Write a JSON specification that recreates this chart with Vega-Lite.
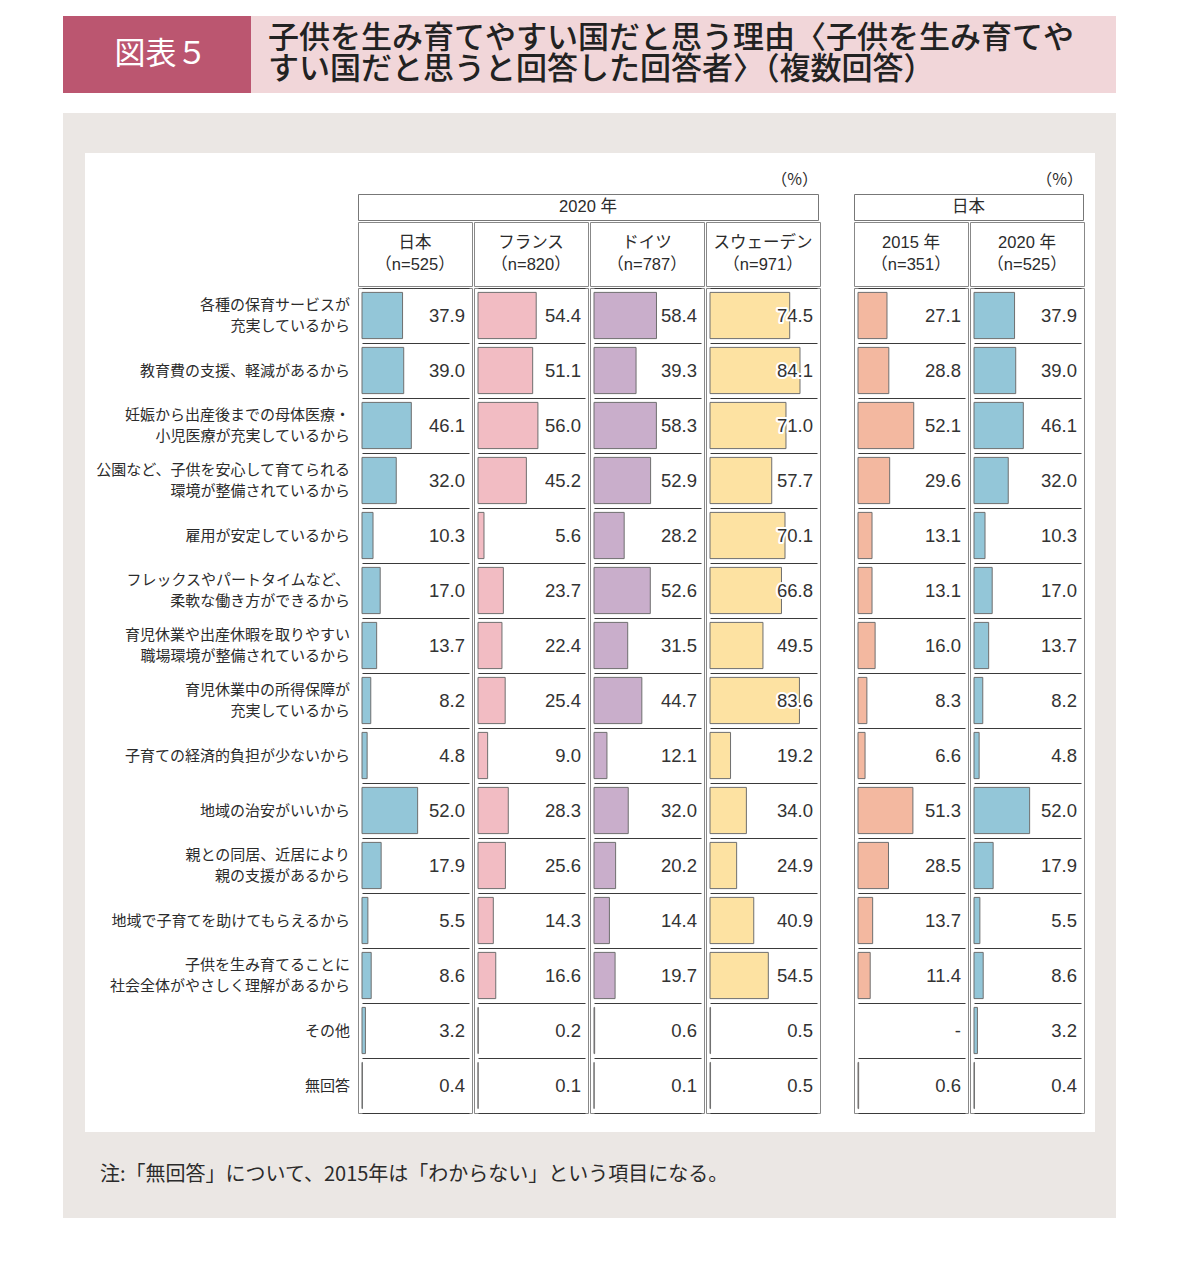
{
  "$schema": "https://vega.github.io/schema/vega-lite/v6.json",
  "padding": {"left": 63, "top": 16, "right": 0, "bottom": 0},
  "spacing": 20,
  "config": {
    "background": "white",
    "font": "Noto Sans CJK JP",
    "view": {"stroke": null},
    "text": {"color": "#2b2b2b"}
  },
  "datasets": {
    "rows": [
      {"k": 1, "label": "各種の保育サービスが\n充実しているから", "jp": 37.9, "fr": 54.4, "de": 58.4, "se": 74.5, "jp15": 27.1},
      {"k": 2, "label": "教育費の支援、軽減があるから", "jp": 39.0, "fr": 51.1, "de": 39.3, "se": 84.1, "jp15": 28.8},
      {"k": 3, "label": "妊娠から出産後までの母体医療・\n小児医療が充実しているから", "jp": 46.1, "fr": 56.0, "de": 58.3, "se": 71.0, "jp15": 52.1},
      {"k": 4, "label": "公園など、子供を安心して育てられる\n環境が整備されているから", "jp": 32.0, "fr": 45.2, "de": 52.9, "se": 57.7, "jp15": 29.6},
      {"k": 5, "label": "雇用が安定しているから", "jp": 10.3, "fr": 5.6, "de": 28.2, "se": 70.1, "jp15": 13.1},
      {"k": 6, "label": "フレックスやパートタイムなど、\n柔軟な働き方ができるから", "jp": 17.0, "fr": 23.7, "de": 52.6, "se": 66.8, "jp15": 13.1},
      {"k": 7, "label": "育児休業や出産休暇を取りやすい\n職場環境が整備されているから", "jp": 13.7, "fr": 22.4, "de": 31.5, "se": 49.5, "jp15": 16.0},
      {"k": 8, "label": "育児休業中の所得保障が\n充実しているから", "jp": 8.2, "fr": 25.4, "de": 44.7, "se": 83.6, "jp15": 8.3},
      {"k": 9, "label": "子育ての経済的負担が少ないから", "jp": 4.8, "fr": 9.0, "de": 12.1, "se": 19.2, "jp15": 6.6},
      {"k": 10, "label": "地域の治安がいいから", "jp": 52.0, "fr": 28.3, "de": 32.0, "se": 34.0, "jp15": 51.3},
      {"k": 11, "label": "親との同居、近居により\n親の支援があるから", "jp": 17.9, "fr": 25.6, "de": 20.2, "se": 24.9, "jp15": 28.5},
      {"k": 12, "label": "地域で子育てを助けてもらえるから", "jp": 5.5, "fr": 14.3, "de": 14.4, "se": 40.9, "jp15": 13.7},
      {"k": 13, "label": "子供を生み育てることに\n社会全体がやさしく理解があるから", "jp": 8.6, "fr": 16.6, "de": 19.7, "se": 54.5, "jp15": 11.4},
      {"k": 14, "label": "その他", "jp": 3.2, "fr": 0.2, "de": 0.6, "se": 0.5, "jp15": null},
      {"k": 15, "label": "無回答", "jp": 0.4, "fr": 0.1, "de": 0.1, "se": 0.5, "jp15": 0.6}
    ]
  },
  "vconcat": [
    {
      "hconcat": [
        {
          "width": 188, "height": 77,
          "data": {"values": [{}]},
          "view": {"fill": "#bb5670", "stroke": null},
          "mark": {"type": "text", "fontSize": 31, "color": "white", "baseline": "middle", "dx": 4},
          "encoding": {"text": {"value": "図表５"}}
        },
        {
          "width": 865, "height": 77,
          "data": {"values": [{}]},
          "view": {"fill": "#f1d6d9", "stroke": null},
          "mark": {"type": "text", "fontSize": 31, "lineHeight": 31, "align": "left", "baseline": "middle", "dy": -15.5, "color": "#222", "fontWeight": 500},
          "encoding": {
            "x": {"value": 17},
            "text": {"value": ["子供を生み育てやすい国だと思う理由〈子供を生み育てや", "すい国だと思うと回答した回答者〉（複数回答）"]}
          }
        }
      ],
      "spacing": 0
    },
    {
      "hconcat": [
        {
          "width": 22, "height": 1105,
          "data": {"values": [{}]},
          "view": {"fill": "#ebe7e4", "stroke": null},
          "mark": "text",
          "encoding": {"text": {"value": ""}}
        },
        {
          "vconcat": [
            {
              "vconcat": [
                {
                  "width": 1010, "height": 40,
                  "data": {"values": [{}]},
                  "view": {"fill": "#ebe7e4", "stroke": null},
                  "mark": "text",
                  "encoding": {"text": {"value": ""}}
                },
                {
                  "hconcat": [
                    {
                      "width": 272, "height": 960,
                      "data": {"name": "rows"},
                      "encoding": {
                        "x": {"value": 265},
                        "y": {"field": "k", "type": "ordinal", "scale": {"type": "band", "padding": 0, "range": [135, 960]}, "axis": null},
                        "text": {"field": "label"}
                      },
                      "layer": [
                        {
                          "transform": [{"filter": "indexof(datum.label, '\\n') < 0"}],
                          "mark": {"type": "text", "align": "right", "baseline": "middle", "fontSize": 15, "lineHeight": 21}
                        },
                        {
                          "transform": [{"filter": "indexof(datum.label, '\\n') >= 0"}],
                          "mark": {"type": "text", "align": "right", "baseline": "middle", "lineBreak": "\n", "fontSize": 15, "lineHeight": 21, "dy": -10.5}
                        }
                      ]
                    },
                    {
                      "hconcat": [
                        {
                          "vconcat": [
                            {
                              "width": 460, "height": 40,
                              "data": {"values": [{}]},
                              "mark": {"type": "text", "align": "right", "baseline": "middle", "fontSize": 16},
                              "encoding": {"x": {"value": 460}, "y": {"value": 27}, "text": {"value": "（%）"}}
                            },
                            {
                              "width": 460, "height": 26,
                              "data": {"values": [{}]},
                              "view": {"stroke": "#777"},
                              "mark": {"type": "text", "fontSize": 16.5, "baseline": "middle", "font": "Liberation Sans, Noto Sans CJK JP"},
                              "encoding": {"text": {"value": "2020 年"}}
                            },
                            {
                              "hconcat": [
                                {
                                  "vconcat": [
                                    {
                                      "width": 114, "height": 64,
                                      "data": {"values": [{}]},
                                      "view": {"stroke": "#888"},
                                      "mark": {"type": "text", "fontSize": 16.5, "lineHeight": 22, "baseline": "middle", "dy": -11, "font": "Liberation Sans, Noto Sans CJK JP"},
                                      "encoding": {"text": {"value": ["日本", "（n=525）"]}}
                                    },
                                    {
                                      "width": 114, "height": 825,
                                      "data": {"name": "rows"},
                                      "view": {"stroke": "#888"},
                                      "encoding": {
                                        "y": {
                                          "field": "k", "type": "ordinal",
                                          "scale": {"padding": 0},
                                          "axis": {"title": null, "labels": false, "ticks": false, "domain": false, "grid": true, "tickBand": "extent", "gridColor": "#3a3a3a", "gridWidth": 1.2}
                                        }
                                      },
                                      "layer": [
                                        {
                                          "mark": {"type": "bar", "height": {"band": 0.84}, "fill": "#93c6d8", "stroke": "#6f6f6f", "strokeWidth": 1},
                                          "encoding": {"x": {"field": "jp", "type": "quantitative", "scale": {"domain": [0, 100], "range": [4, 111]}, "axis": null}}
                                        },
                                        {
                                          "mark": {"type": "text", "align": "right", "baseline": "middle", "dx": -4, "fontSize": 18.5, "font": "Liberation Sans", "color": "#333"},
                                          "encoding": {
                                            "x": {"datum": 100, "type": "quantitative", "scale": {"domain": [0, 100], "range": [4, 111]}, "axis": null},
                                            "text": {"field": "jp", "type": "quantitative", "format": ".1f"}
                                          }
                                        }
                                      ]
                                    }
                                  ],
                                  "spacing": 0
                                },
                                {
                                  "vconcat": [
                                    {
                                      "width": 114, "height": 64,
                                      "data": {"values": [{}]},
                                      "view": {"stroke": "#888"},
                                      "mark": {"type": "text", "fontSize": 16.5, "lineHeight": 22, "baseline": "middle", "dy": -11, "font": "Liberation Sans, Noto Sans CJK JP"},
                                      "encoding": {"text": {"value": ["フランス", "（n=820）"]}}
                                    },
                                    {
                                      "width": 114, "height": 825,
                                      "data": {"name": "rows"},
                                      "view": {"stroke": "#888"},
                                      "encoding": {
                                        "y": {
                                          "field": "k", "type": "ordinal",
                                          "scale": {"padding": 0},
                                          "axis": {"title": null, "labels": false, "ticks": false, "domain": false, "grid": true, "tickBand": "extent", "gridColor": "#3a3a3a", "gridWidth": 1.2}
                                        }
                                      },
                                      "layer": [
                                        {
                                          "mark": {"type": "bar", "height": {"band": 0.84}, "fill": "#f2bcc3", "stroke": "#6f6f6f", "strokeWidth": 1},
                                          "encoding": {"x": {"field": "fr", "type": "quantitative", "scale": {"domain": [0, 100], "range": [4, 111]}, "axis": null}}
                                        },
                                        {
                                          "mark": {"type": "text", "align": "right", "baseline": "middle", "dx": -4, "fontSize": 18.5, "font": "Liberation Sans", "color": "#333"},
                                          "encoding": {
                                            "x": {"datum": 100, "type": "quantitative", "scale": {"domain": [0, 100], "range": [4, 111]}, "axis": null},
                                            "text": {"field": "fr", "type": "quantitative", "format": ".1f"}
                                          }
                                        }
                                      ]
                                    }
                                  ],
                                  "spacing": 0
                                },
                                {
                                  "vconcat": [
                                    {
                                      "width": 114, "height": 64,
                                      "data": {"values": [{}]},
                                      "view": {"stroke": "#888"},
                                      "mark": {"type": "text", "fontSize": 16.5, "lineHeight": 22, "baseline": "middle", "dy": -11, "font": "Liberation Sans, Noto Sans CJK JP"},
                                      "encoding": {"text": {"value": ["ドイツ", "（n=787）"]}}
                                    },
                                    {
                                      "width": 114, "height": 825,
                                      "data": {"name": "rows"},
                                      "view": {"stroke": "#888"},
                                      "encoding": {
                                        "y": {
                                          "field": "k", "type": "ordinal",
                                          "scale": {"padding": 0},
                                          "axis": {"title": null, "labels": false, "ticks": false, "domain": false, "grid": true, "tickBand": "extent", "gridColor": "#3a3a3a", "gridWidth": 1.2}
                                        }
                                      },
                                      "layer": [
                                        {
                                          "mark": {"type": "bar", "height": {"band": 0.84}, "fill": "#c9aecb", "stroke": "#6f6f6f", "strokeWidth": 1},
                                          "encoding": {"x": {"field": "de", "type": "quantitative", "scale": {"domain": [0, 100], "range": [4, 111]}, "axis": null}}
                                        },
                                        {
                                          "mark": {"type": "text", "align": "right", "baseline": "middle", "dx": -4, "fontSize": 18.5, "font": "Liberation Sans", "color": "#333"},
                                          "encoding": {
                                            "x": {"datum": 100, "type": "quantitative", "scale": {"domain": [0, 100], "range": [4, 111]}, "axis": null},
                                            "text": {"field": "de", "type": "quantitative", "format": ".1f"}
                                          }
                                        }
                                      ]
                                    }
                                  ],
                                  "spacing": 0
                                },
                                {
                                  "vconcat": [
                                    {
                                      "width": 114, "height": 64,
                                      "data": {"values": [{}]},
                                      "view": {"stroke": "#888"},
                                      "mark": {"type": "text", "fontSize": 16.5, "lineHeight": 22, "baseline": "middle", "dy": -11, "font": "Liberation Sans, Noto Sans CJK JP"},
                                      "encoding": {"text": {"value": ["スウェーデン", "（n=971）"]}}
                                    },
                                    {
                                      "width": 114, "height": 825,
                                      "data": {"name": "rows"},
                                      "view": {"stroke": "#888"},
                                      "encoding": {
                                        "y": {
                                          "field": "k", "type": "ordinal",
                                          "scale": {"padding": 0},
                                          "axis": {"title": null, "labels": false, "ticks": false, "domain": false, "grid": true, "tickBand": "extent", "gridColor": "#3a3a3a", "gridWidth": 1.2}
                                        }
                                      },
                                      "layer": [
                                        {
                                          "mark": {"type": "bar", "height": {"band": 0.84}, "fill": "#fde2a2", "stroke": "#6f6f6f", "strokeWidth": 1},
                                          "encoding": {"x": {"field": "se", "type": "quantitative", "scale": {"domain": [0, 100], "range": [4, 111]}, "axis": null}}
                                        },
                                        {
                                          "mark": {"type": "text", "align": "right", "baseline": "middle", "dx": -4, "fontSize": 18.5, "font": "Liberation Sans", "fill": "white", "stroke": "white", "strokeWidth": 4, "strokeJoin": "round"},
                                          "encoding": {
                                            "x": {"datum": 100, "type": "quantitative", "scale": {"domain": [0, 100], "range": [4, 111]}, "axis": null},
                                            "text": {"field": "se", "type": "quantitative", "format": ".1f"}
                                          }
                                        },
                                        {
                                          "mark": {"type": "text", "align": "right", "baseline": "middle", "dx": -4, "fontSize": 18.5, "font": "Liberation Sans", "color": "#333"},
                                          "encoding": {
                                            "x": {"datum": 100, "type": "quantitative", "scale": {"domain": [0, 100], "range": [4, 111]}, "axis": null},
                                            "text": {"field": "se", "type": "quantitative", "format": ".1f"}
                                          }
                                        }
                                      ]
                                    }
                                  ],
                                  "spacing": 0
                                }
                              ],
                              "spacing": 0
                            }
                          ],
                          "spacing": 0
                        },
                        {
                          "vconcat": [
                            {
                              "width": 229, "height": 40,
                              "data": {"values": [{}]},
                              "mark": {"type": "text", "align": "right", "baseline": "middle", "fontSize": 16},
                              "encoding": {"x": {"value": 229}, "y": {"value": 27}, "text": {"value": "（%）"}}
                            },
                            {
                              "width": 229, "height": 26,
                              "data": {"values": [{}]},
                              "view": {"stroke": "#777"},
                              "mark": {"type": "text", "fontSize": 16.5, "baseline": "middle"},
                              "encoding": {"text": {"value": "日本"}}
                            },
                            {
                              "hconcat": [
                                {
                                  "vconcat": [
                                    {
                                      "width": 114, "height": 64,
                                      "data": {"values": [{}]},
                                      "view": {"stroke": "#888"},
                                      "mark": {"type": "text", "fontSize": 16.5, "lineHeight": 22, "baseline": "middle", "dy": -11, "font": "Liberation Sans, Noto Sans CJK JP"},
                                      "encoding": {"text": {"value": ["2015 年", "（n=351）"]}}
                                    },
                                    {
                                      "width": 114, "height": 825,
                                      "data": {"name": "rows"},
                                      "view": {"stroke": "#888"},
                                      "encoding": {
                                        "y": {
                                          "field": "k", "type": "ordinal",
                                          "scale": {"padding": 0},
                                          "axis": {"title": null, "labels": false, "ticks": false, "domain": false, "grid": true, "tickBand": "extent", "gridColor": "#3a3a3a", "gridWidth": 1.2}
                                        }
                                      },
                                      "layer": [
                                        {
                                          "mark": {"type": "bar", "height": {"band": 0.84}, "fill": "#f3b8a0", "stroke": "#6f6f6f", "strokeWidth": 1},
                                          "encoding": {"x": {"field": "jp15", "type": "quantitative", "scale": {"domain": [0, 100], "range": [4, 111]}, "axis": null}}
                                        },
                                        {
                                          "mark": {"type": "text", "align": "right", "baseline": "middle", "dx": -4, "fontSize": 18.5, "font": "Liberation Sans", "color": "#333"},
                                          "encoding": {
                                            "x": {"datum": 100, "type": "quantitative", "scale": {"domain": [0, 100], "range": [4, 111]}, "axis": null},
                                            "text": {"condition": {"test": "datum.jp15 === null", "value": "-"}, "field": "jp15", "type": "quantitative", "format": ".1f"}
                                          }
                                        }
                                      ]
                                    }
                                  ],
                                  "spacing": 0
                                },
                                {
                                  "vconcat": [
                                    {
                                      "width": 114, "height": 64,
                                      "data": {"values": [{}]},
                                      "view": {"stroke": "#888"},
                                      "mark": {"type": "text", "fontSize": 16.5, "lineHeight": 22, "baseline": "middle", "dy": -11, "font": "Liberation Sans, Noto Sans CJK JP"},
                                      "encoding": {"text": {"value": ["2020 年", "（n=525）"]}}
                                    },
                                    {
                                      "width": 114, "height": 825,
                                      "data": {"name": "rows"},
                                      "view": {"stroke": "#888"},
                                      "encoding": {
                                        "y": {
                                          "field": "k", "type": "ordinal",
                                          "scale": {"padding": 0},
                                          "axis": {"title": null, "labels": false, "ticks": false, "domain": false, "grid": true, "tickBand": "extent", "gridColor": "#3a3a3a", "gridWidth": 1.2}
                                        }
                                      },
                                      "layer": [
                                        {
                                          "mark": {"type": "bar", "height": {"band": 0.84}, "fill": "#93c6d8", "stroke": "#6f6f6f", "strokeWidth": 1},
                                          "encoding": {"x": {"field": "jp", "type": "quantitative", "scale": {"domain": [0, 100], "range": [4, 111]}, "axis": null}}
                                        },
                                        {
                                          "mark": {"type": "text", "align": "right", "baseline": "middle", "dx": -4, "fontSize": 18.5, "font": "Liberation Sans", "color": "#333"},
                                          "encoding": {
                                            "x": {"datum": 100, "type": "quantitative", "scale": {"domain": [0, 100], "range": [4, 111]}, "axis": null},
                                            "text": {"field": "jp", "type": "quantitative", "format": ".1f"}
                                          }
                                        }
                                      ]
                                    }
                                  ],
                                  "spacing": 0
                                }
                              ],
                              "spacing": 0
                            }
                          ],
                          "spacing": 0
                        }
                      ],
                      "spacing": 32
                    }
                  ],
                  "spacing": 0
                }
              ],
              "spacing": 0
            },
            {
              "width": 1010, "height": 86,
              "data": {"values": [{}]},
              "view": {"fill": "#ebe7e4", "stroke": null},
              "mark": {"type": "text", "align": "left", "baseline": "middle", "fontSize": 20, "color": "#2b2b2b"},
              "encoding": {
                "x": {"value": 15},
                "text": {"value": "注:「無回答」について、2015年は「わからない」という項目になる。"}
              }
            }
          ],
          "spacing": 18
        },
        {
          "width": 21, "height": 1105,
          "data": {"values": [{}]},
          "view": {"fill": "#ebe7e4", "stroke": null},
          "mark": "text",
          "encoding": {"text": {"value": ""}}
        }
      ],
      "spacing": 0
    }
  ]
}
